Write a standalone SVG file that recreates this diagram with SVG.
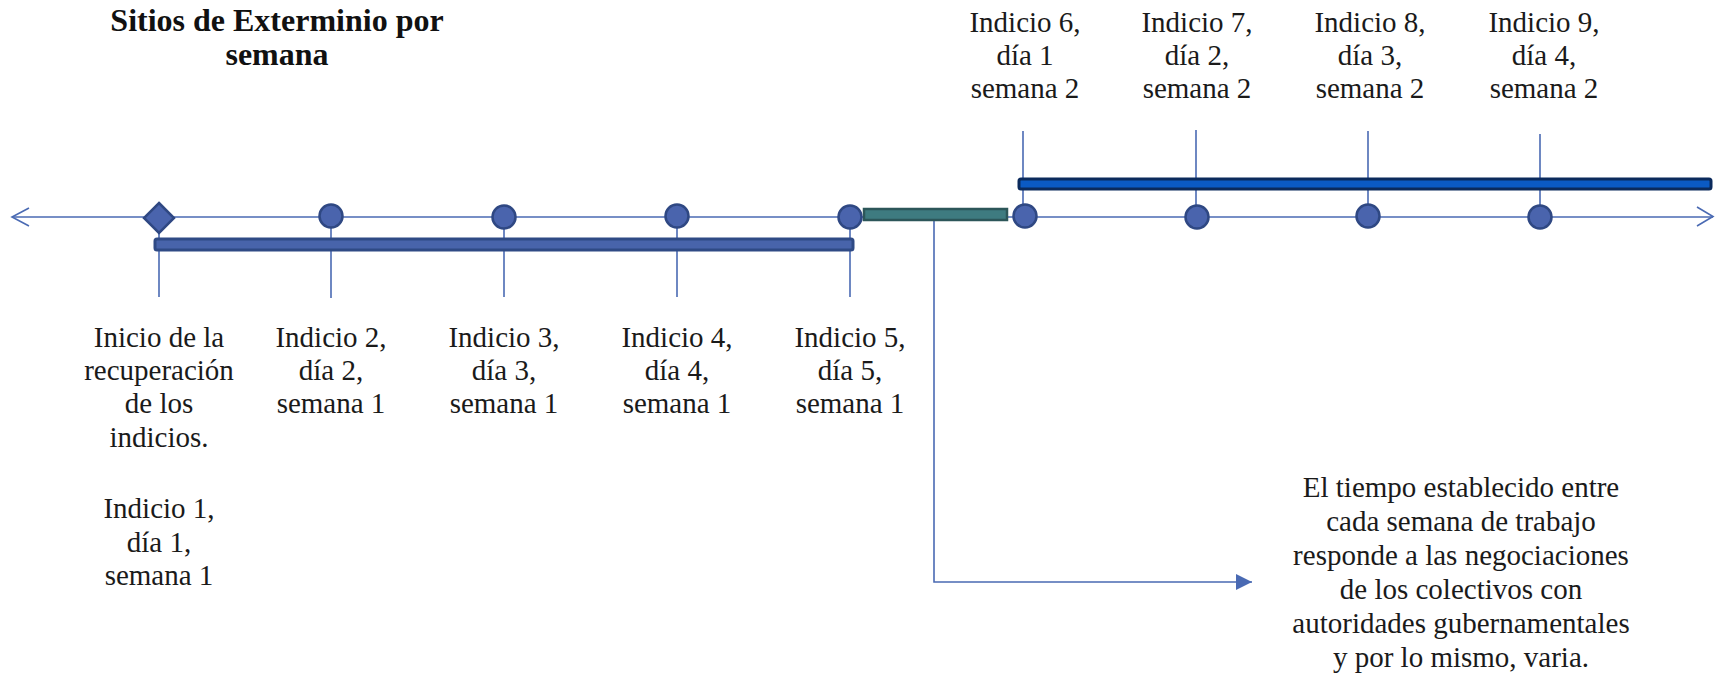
<svg xmlns="http://www.w3.org/2000/svg" width="1722" height="677" viewBox="0 0 1722 677">
<style>
.t{font-family:"Liberation Serif","Times New Roman",serif;font-size:29px;fill:#1a1a1a;text-anchor:middle}
.title{font-family:"Liberation Serif","Times New Roman",serif;font-size:32px;font-weight:bold;fill:#111;text-anchor:middle}
.ax{stroke:#4a6ab3;stroke-width:1.6;fill:none}
.tick{stroke:#4a6ab3;stroke-width:1.6}
.dot{fill:#4a64ad;stroke:#2f4883;stroke-width:2.5}
</style>
<defs>
<marker id="tri" markerWidth="16" markerHeight="16" refX="16" refY="8" orient="auto" markerUnits="userSpaceOnUse">
<path d="M0,0 L16,8 L0,16 Z" fill="#4a6ab3"/>
</marker>
</defs>
<g id="title">
<text class="title" x="277" y="31">Sitios de Exterminio por</text>
<text class="title" x="277" y="65">semana</text>
</g>
<g id="connectors">
<line class="ax" x1="12" y1="217" x2="1713" y2="217"/>
<path class="ax" d="M29,208 L12,217 L29,226"/>
<path class="ax" d="M1697,207 L1713,216.5 L1697,226"/>
<line class="tick" x1="159" y1="232" x2="159" y2="297"/>
<line class="tick" x1="331" y1="216" x2="331" y2="298"/>
<line class="tick" x1="504" y1="216" x2="504" y2="297"/>
<line class="tick" x1="677" y1="216" x2="677" y2="297"/>
<line class="tick" x1="850" y1="216" x2="850" y2="297"/>
<line class="tick" x1="1023" y1="131" x2="1023" y2="216"/>
<line class="tick" x1="1196" y1="130" x2="1196" y2="216"/>
<line class="tick" x1="1368" y1="131" x2="1368" y2="216"/>
<line class="tick" x1="1540" y1="134" x2="1540" y2="216"/>
<path class="ax" d="M934,214 L934,582 L1252,582" marker-end="url(#tri)"/>
</g>
<g id="bar-week1">
<rect x="155" y="239" width="698" height="11" rx="2" fill="#4864ab" stroke="#2f4a85" stroke-width="3"/>
</g>
<g id="bar-gap">
<rect x="864" y="209" width="143" height="11" fill="#3e7b80" stroke="#2c5659" stroke-width="2.5"/>
</g>
<g id="bar-week2">
<rect x="1019" y="179" width="692" height="10" rx="2" fill="#0b5ac4" stroke="#0b2a5c" stroke-width="3"/>
</g>
<g id="node-inicio">
<path class="dot" d="M159,203 L174,218 L159,233 L144,218 Z"/>
<text class="t" x="159" y="347">Inicio de la</text>
<text class="t" x="159" y="380">recuperación</text>
<text class="t" x="159" y="413">de los</text>
<text class="t" x="159" y="447">indicios.</text>
<text class="t" x="159" y="518">Indicio 1,</text>
<text class="t" x="159" y="552">día 1,</text>
<text class="t" x="159" y="585">semana 1</text>
</g>
<g id="node-2">
<circle class="dot" cx="331" cy="216" r="11.5"/>
<text class="t" x="331" y="347">Indicio 2,</text>
<text class="t" x="331" y="380">día 2,</text>
<text class="t" x="331" y="413">semana 1</text>
</g>
<g id="node-3">
<circle class="dot" cx="504" cy="217" r="11.5"/>
<text class="t" x="504" y="347">Indicio 3,</text>
<text class="t" x="504" y="380">día 3,</text>
<text class="t" x="504" y="413">semana 1</text>
</g>
<g id="node-4">
<circle class="dot" cx="677" cy="216" r="11.5"/>
<text class="t" x="677" y="347">Indicio 4,</text>
<text class="t" x="677" y="380">día 4,</text>
<text class="t" x="677" y="413">semana 1</text>
</g>
<g id="node-5">
<circle class="dot" cx="850" cy="217" r="11.5"/>
<text class="t" x="850" y="347">Indicio 5,</text>
<text class="t" x="850" y="380">día 5,</text>
<text class="t" x="850" y="413">semana 1</text>
</g>
<g id="node-6">
<circle class="dot" cx="1025" cy="216" r="11.5"/>
<text class="t" x="1025" y="32">Indicio 6,</text>
<text class="t" x="1025" y="65">día 1</text>
<text class="t" x="1025" y="98">semana 2</text>
</g>
<g id="node-7">
<circle class="dot" cx="1197" cy="217" r="11.5"/>
<text class="t" x="1197" y="32">Indicio 7,</text>
<text class="t" x="1197" y="65">día 2,</text>
<text class="t" x="1197" y="98">semana 2</text>
</g>
<g id="node-8">
<circle class="dot" cx="1368" cy="216" r="11.5"/>
<text class="t" x="1370" y="32">Indicio 8,</text>
<text class="t" x="1370" y="65">día 3,</text>
<text class="t" x="1370" y="98">semana 2</text>
</g>
<g id="node-9">
<circle class="dot" cx="1540" cy="217" r="11.5"/>
<text class="t" x="1544" y="32">Indicio 9,</text>
<text class="t" x="1544" y="65">día 4,</text>
<text class="t" x="1544" y="98">semana 2</text>
</g>
<g id="note">
<text class="t" x="1461" y="497">El tiempo establecido entre</text>
<text class="t" x="1461" y="531">cada semana de trabajo</text>
<text class="t" x="1461" y="565">responde a las negociaciones</text>
<text class="t" x="1461" y="599">de los colectivos con</text>
<text class="t" x="1461" y="633">autoridades gubernamentales</text>
<text class="t" x="1461" y="667">y por lo mismo, varia.</text>
</g>
</svg>
